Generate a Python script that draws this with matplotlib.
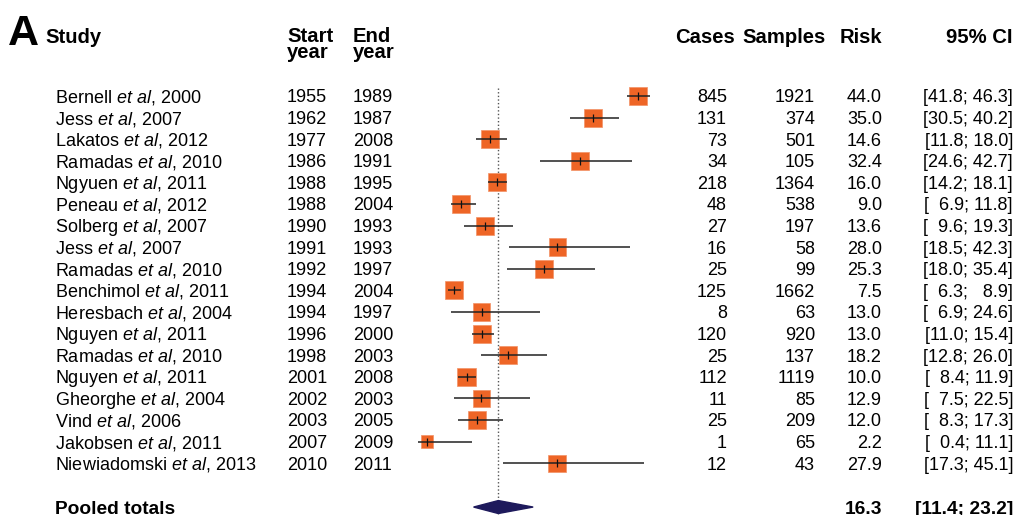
import numpy as np
import matplotlib
matplotlib.use("Agg")
import matplotlib.pyplot as plt
from matplotlib.transforms import blended_transform_factory

plt.rcParams['font.family'] = ['Liberation Sans', 'DejaVu Sans']
plt.rcParams['mathtext.fontset'] = 'custom'
plt.rcParams['mathtext.rm'] = 'Liberation Sans'
plt.rcParams['mathtext.it'] = 'Liberation Sans:italic'
plt.rcParams['mathtext.bf'] = 'Liberation Sans:bold'

# donnees
authors = ["Bernell", "Jess", "Lakatos", "Ramadas", "Ngyuen", "Peneau", "Solberg",
           "Jess", "Ramadas", "Benchimol", "Heresbach", "Nguyen", "Ramadas",
           "Nguyen", "Gheorghe", "Vind", "Jakobsen", "Niewiadomski"]
pub_year = [2000, 2007, 2012, 2010, 2011, 2012, 2007, 2007, 2010, 2011, 2004,
            2011, 2010, 2011, 2004, 2006, 2011, 2013]
start_year = [1955, 1962, 1977, 1986, 1988, 1988, 1990, 1991, 1992, 1994, 1994,
              1996, 1998, 2001, 2002, 2003, 2007, 2010]
end_year = [1989, 1987, 2008, 1991, 1995, 2004, 1993, 1993, 1997, 2004, 1997,
            2000, 2003, 2008, 2003, 2005, 2009, 2011]
cases = [845, 131, 73, 34, 218, 48, 27, 16, 25, 125, 8, 120, 25, 112, 11, 25, 1, 12]
samples = [1921, 374, 501, 105, 1364, 538, 197, 58, 99, 1662, 63, 920, 137, 1119,
           85, 209, 65, 43]
risk = [44.0, 35.0, 14.6, 32.4, 16.0, 9.0, 13.6, 28.0, 25.3, 7.5, 13.0, 13.0,
        18.2, 10.0, 12.9, 12.0, 2.2, 27.9]
ci_low = [41.8, 30.5, 11.8, 24.6, 14.2, 6.9, 9.6, 18.5, 18.0, 6.3, 6.9, 11.0,
          12.8, 8.4, 7.5, 8.3, 0.4, 17.3]
ci_high = [46.3, 40.2, 18.0, 42.7, 18.1, 11.8, 19.3, 42.3, 35.4, 8.9, 24.6, 15.4,
           26.0, 11.9, 22.5, 17.3, 11.1, 45.1]
# poids (estimes d'apres la taille des carres)
weight = [5.9, 5.9, 5.8, 5.8, 5.9, 5.8, 5.7, 5.5, 5.6, 5.9, 5.2, 5.9, 5.6, 5.9,
          5.3, 5.7, 2.8, 5.4]
pooled_risk = 16.3
pooled_low = 11.4
pooled_high = 23.2

W, H = 1018, 515
row0, dy = 96, 21.6   # pixels de la premiere ligne, ecart entre lignes
n = len(risk)
rows = np.arange(n)
pooled_row = 19.03

orange = '#EE6526'
navy = '#1E1A5C'

fig = plt.figure(figsize=(W / 100, H / 100), dpi=100)
# axe : 0 -> 416 px, 5.05 px par unite
xmin, xmax = -2, 50
x0 = 416 + 5.05 * xmin
x1 = 416 + 5.05 * xmax
ax = fig.add_axes([x0 / W, 0, (x1 - x0) / W, 1])
ax.set_xlim(xmin, xmax)
ax.set_ylim((H - row0) / dy, -row0 / dy)
ax.axis('off')

# ligne pointillee
ax.vlines(pooled_risk, -0.37, (H - row0) / dy, colors='#555555',
          linestyles=(0, (1, 1.6)), lw=1.0, zorder=1)

sizes = 18 * np.sqrt(np.array(weight) / 5.8) * 0.72
ax.scatter(risk, rows, s=sizes ** 2, marker='s', color=orange,
           edgecolor='#F39266', linewidth=0.5, zorder=2)
ax.hlines(rows, ci_low, ci_high, colors='#222222', lw=1.1, zorder=3)
ax.scatter(risk, rows, marker='|', s=30, color='#111111', linewidth=0.9, zorder=4)

# losange
h = 0.3
ax.fill([pooled_low, pooled_risk, pooled_high, pooled_risk],
        [pooled_row, pooled_row - h, pooled_row, pooled_row + h],
        color=navy, zorder=3)

# deux espaces = largeur d'un chiffre en Liberation Sans
def fmt(v):
    s = "%.1f" % v
    return "  " + s if v < 10 else s

# textes
tr = blended_transform_factory(fig.transFigure, ax.transData)
fs = 13
base = 0.3
for i in range(n):
    y = i + base
    ax.text(55 / W, y, authors[i] + r" $\mathit{et\ al}$, " + str(pub_year[i]),
            transform=tr, fontsize=fs, va='baseline', ha='left')
    ax.text(287 / W, y, str(start_year[i]), transform=tr, fontsize=fs, va='baseline')
    ax.text(353 / W, y, str(end_year[i]), transform=tr, fontsize=fs, va='baseline')
    ax.text(727 / W, y, str(cases[i]), transform=tr, fontsize=fs, va='baseline', ha='right')
    ax.text(815 / W, y, str(samples[i]), transform=tr, fontsize=fs, va='baseline', ha='right')
    ax.text(882 / W, y, "%.1f" % risk[i], transform=tr, fontsize=fs, va='baseline', ha='right')
    ax.text(1013 / W, y, "[%s; %s]" % (fmt(ci_low[i]), fmt(ci_high[i])), transform=tr,
            fontsize=fs, va='baseline', ha='right')

y = pooled_row + base
ax.text(55 / W, y, "Pooled totals", transform=tr, fontsize=13.8, fontweight='bold', va='baseline')
ax.text(882 / W, y, "%.1f" % pooled_risk, transform=tr, fontsize=13.8,
        fontweight='bold', va='baseline', ha='right')
ax.text(1013 / W, y, "[%.1f; %.1f]" % (pooled_low, pooled_high), transform=tr,
        fontsize=13.8, fontweight='bold', va='baseline', ha='right')

def hdr(x, yb, s, ha='left', size=14.6):
    fig.text(x / W, 1 - yb / H, s, fontsize=size, fontweight='bold', ha=ha, va='baseline')

hdr(8, 45, "A", size=31)
hdr(45, 43, "Study")
hdr(287, 42, "Start")
hdr(287, 58, "year")
hdr(353, 42, "End")
hdr(353, 58, "year")
hdr(675, 43, "Cases")
hdr(826, 43, "Samples", ha='right')
hdr(882, 43, "Risk", ha='right')
hdr(1013, 43, "95% CI", ha='right')

fig.savefig('out.png', dpi=100)
